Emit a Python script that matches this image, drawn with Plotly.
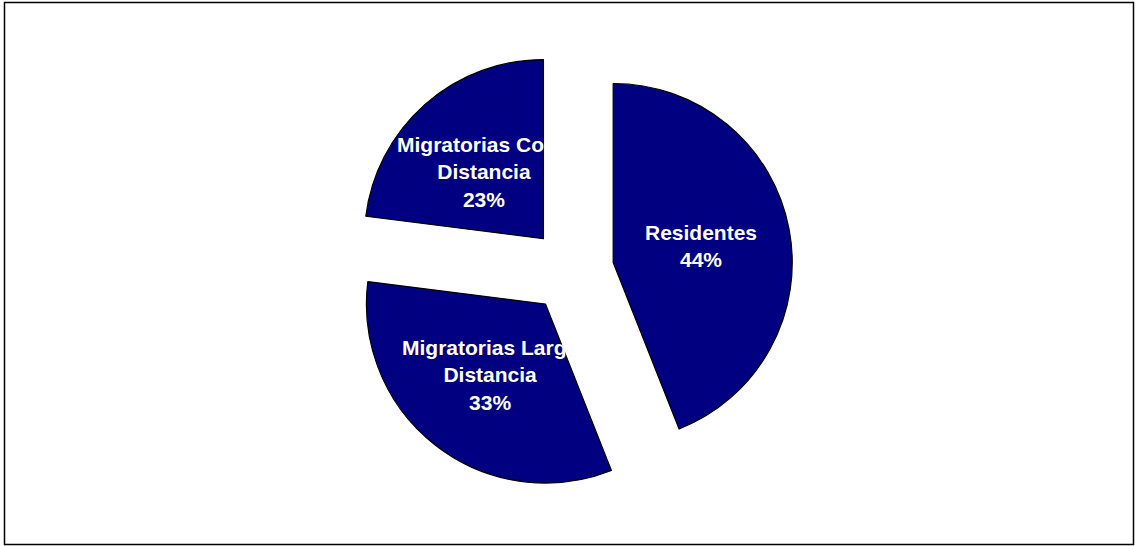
import math
import plotly.graph_objects as go

# Bird species groups by migratory behaviour
categories = ["Residentes", "Migratorias Larga Distancia", "Migratorias Corta Distancia"]
shares = [44, 33, 23]
slice_text = ["Residentes", "Migratorias Larga<br>Distancia", "Migratorias Corta<br>Distancia"]

W, H = 1138, 546
margin = dict(l=100, r=95, t=49, b=54)
PULL = 0.237
LABEL_DEPTH = 0.5          # label distance from slice tip, as a fraction of the radius
LABEL_FONT = dict(family="Liberation Sans, Arial, sans-serif", size=21,
                  color="white", weight="bold")

fig = go.Figure(
    go.Pie(
        labels=categories,
        values=shares,
        textinfo="none",
        sort=False,
        direction="clockwise",
        rotation=0,
        pull=[PULL] * len(shares),
        marker=dict(colors=["#000080"] * len(shares), line=dict(color="black", width=1.2)),
        hoverinfo="label+percent",
        showlegend=False,
    )
)

# place each label on its slice's bisector, half a radius out from the exploded tip
pw = W - margin["l"] - margin["r"]
ph = H - margin["t"] - margin["b"]
radius = min(pw, ph) / 2 / (1 + PULL)
total = sum(shares)
start = 0.0
for txt, v in zip(slice_text, shares):
    mid = 2 * math.pi * (start + v / 2) / total
    start += v
    dist = (PULL + LABEL_DEPTH) * radius
    fig.add_annotation(
        x=0.5 + dist * math.sin(mid) / pw,
        y=0.5 + dist * math.cos(mid) / ph,
        xref="paper", yref="paper",
        text=f"{txt}<br>{round(100 * v / total)}%",
        showarrow=False, xanchor="center", yanchor="middle",
        font=LABEL_FONT,
    )

# thin outer frame around the whole chart
fx0, fx1, fy0, fy1 = 4.5, 1133.5, 2.5, 544.5
fig.add_shape(
    type="rect", xref="paper", yref="paper",
    x0=(fx0 - margin["l"]) / pw, x1=(fx1 - margin["l"]) / pw,
    y0=(H - margin["b"] - fy1) / ph, y1=(H - margin["b"] - fy0) / ph,
    line=dict(color="black", width=1.5), fillcolor="rgba(0,0,0,0)",
)

fig.update_layout(
    width=W, height=H,
    margin=margin,
    paper_bgcolor="white", plot_bgcolor="white",
    font=dict(family="Liberation Sans, Arial, sans-serif"),
)

fig.write_html("out.html")
